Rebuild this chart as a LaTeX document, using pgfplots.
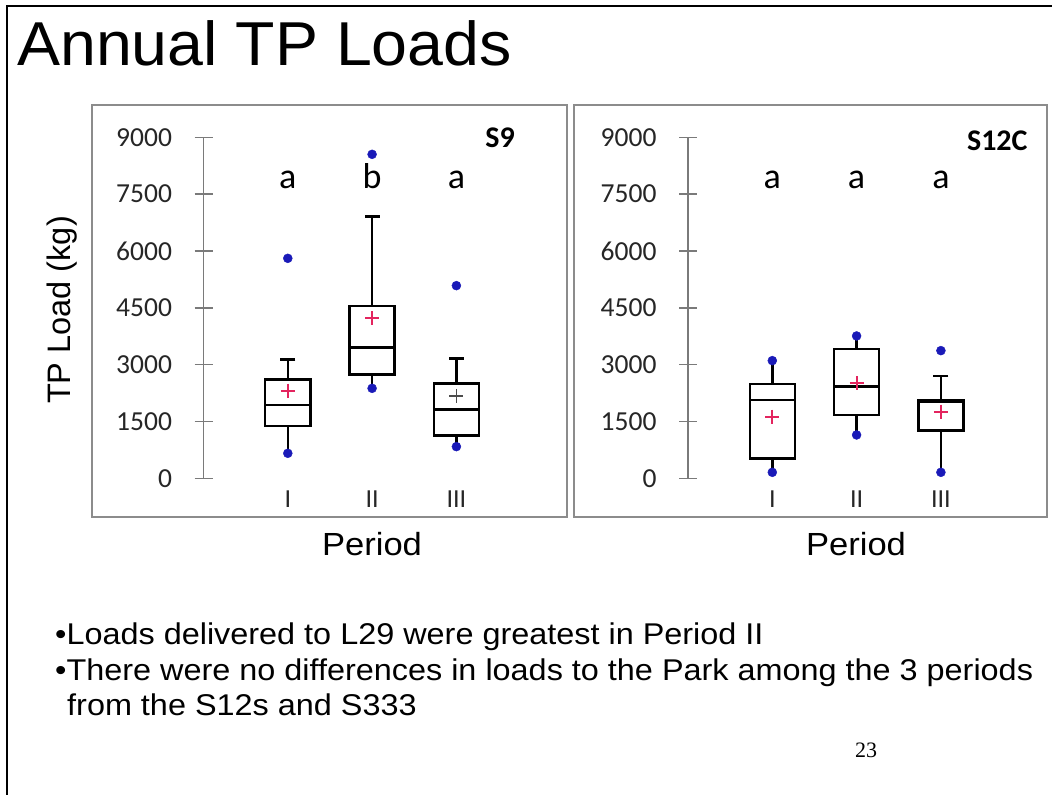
\documentclass[border=0pt]{standalone}
\usepackage{fontspec}
\setmainfont{Liberation Sans}
\newfontfamily\calib{Carlito}
\newfontfamily\tms{Liberation Serif}
\usepackage{pgfplots}
\pgfplotsset{compat=1.18}
\definecolor{dotblue}{HTML}{1A1AB8}
\definecolor{meanred}{HTML}{E3245E}
\definecolor{framegray}{HTML}{8C8C8C}
\definecolor{axgray}{HTML}{7A7A7A}

\pgfplotsset{
 panel/.style={
  scale only axis, width=337.2pt, height=341pt,
  xmin=0, xmax=4, ymin=0, ymax=9000,
  clip=false,
  axis y line*=left, axis x line*=bottom,
  x axis line style={draw=none},
  y axis line style={draw=axgray, line width=1.6pt},
  xtick={1,2,3}, xticklabels={I,II,III},
  major x tick style={draw=none},
  ytick={0,1500,3000,4500,6000,7500,9000},
  major y tick style={draw=axgray, line width=1.6pt},
  major tick length=18pt, tick align=center,
  yticklabel style={font=\calib\fontsize{27.5}{27.5}\selectfont, text=black!85, xshift=-19pt},
  xticklabel style={font=\calib\fontsize{26}{26}\selectfont, text=black!85},
  unbounded coords=jump,
  /pgf/number format/assume math mode=true,
  /pgf/number format/fixed,
  /pgf/number format/1000 sep={},
 },
 bx/.style={black, line width=2.4pt, solid, no marks, line cap=rect},
}

\begin{document}
\begin{tikzpicture}
\useasboundingbox (0pt,0pt) rectangle (1052pt,-795pt);
\fill[white] (0pt,0pt) rectangle (1052pt,-795pt);
\draw[line width=2pt] (7pt,-795pt) -- (7pt,-6pt) -- (1052pt,-6pt);
\node[anchor=base west, inner sep=0, xscale=1.04, font=\fontsize{62}{70}\selectfont] at (17pt,-65pt) {Annual TP Loads};

\draw[framegray, line width=2pt] (92pt,-105pt) rectangle (567pt,-517pt);
\draw[framegray, line width=2pt] (574pt,-105pt) rectangle (1047pt,-517pt);

% ---------- S9 ----------
\begin{axis}[panel, at={(203.5pt,-478.3pt)}, anchor=south west]
% Period I: box 1381-2613, median 1935, whiskers 660 / 3141
\addplot[bx] coordinates {(0.733,1381) (1.267,1381) (1.267,2613) (0.733,2613) (0.733,1381) (nan,nan)
  (0.733,1935) (1.267,1935) (nan,nan) (1,2613) (1,3141) (nan,nan) (1,1381) (1,660)};
% Period II: box 2745-4548, median 3449, whiskers 2375 / 6906
\addplot[bx] coordinates {(1.733,2745) (2.267,2745) (2.267,4548) (1.733,4548) (1.733,2745) (nan,nan)
  (1.733,3449) (2.267,3449) (nan,nan) (2,4548) (2,6906) (nan,nan) (2,2745) (2,2375)};
% Period III: box 1126-2507, median 1821, whiskers 836 / 3167
\addplot[bx] coordinates {(2.733,1126) (3.267,1126) (3.267,2507) (2.733,2507) (2.733,1126) (nan,nan)
  (2.733,1821) (3.267,1821) (nan,nan) (3,2507) (3,3167) (nan,nan) (3,1126) (3,836)};
\addplot[only marks, mark=-, mark size=7.5pt, black, line width=2.4pt] coordinates {(1,3141) (2,6906) (3,3167)};
\addplot[only marks, mark=*, mark size=4.5pt, dotblue] coordinates {(1,5806) (1,660) (2,8551) (2,2375) (3,5085) (3,836)};
\addplot[only marks, mark=+, mark size=7pt, meanred, line width=1.8pt] coordinates {(1,2314) (2,4223)};
\addplot[only marks, mark=+, mark size=7pt, black!70, line width=1.8pt] coordinates {(3,2173)};
\node[anchor=base, font=\calib\fontsize{36}{36}\selectfont] at (axis cs:1,7660) {a};
\node[anchor=base, font=\calib\fontsize{36}{36}\selectfont] at (axis cs:2,7660) {b};
\node[anchor=base, font=\calib\fontsize{36}{36}\selectfont] at (axis cs:3,7660) {a};
\node[anchor=base east, inner sep=0, font=\calib\bfseries\fontsize{30}{30}\selectfont] at (axis cs:3.695,8718) {S9};
\end{axis}

% ---------- S12C ----------
\begin{axis}[panel, at={(688pt,-478.3pt)}, anchor=south west]
\addplot[bx] coordinates {(0.733,528) (1.267,528) (1.267,2490) (0.733,2490) (0.733,528) (nan,nan)
  (0.733,2067) (1.267,2067) (nan,nan) (1,2490) (1,3106) (nan,nan) (1,528) (1,158)};
\addplot[bx] coordinates {(1.733,1672) (2.267,1672) (2.267,3405) (1.733,3405) (1.733,1672) (nan,nan)
  (1.733,2419) (2.267,2419) (nan,nan) (2,3405) (2,3757) (nan,nan) (2,1672) (2,1144)};
\addplot[bx] coordinates {(2.733,1258) (3.267,1258) (3.267,2050) (2.733,2050) (2.733,1258) (nan,nan)
  (2.733,2010) (3.267,2010) (nan,nan) (3,2050) (3,2701) (nan,nan) (3,1258) (3,158)};
\addplot[only marks, mark=-, mark size=7.5pt, black, line width=2.4pt] coordinates {(3,2701)};
\addplot[only marks, mark=*, mark size=4.5pt, dotblue] coordinates {(1,3106) (1,158) (2,3757) (2,1144) (3,3370) (3,158)};
\addplot[only marks, mark=+, mark size=7pt, meanred, line width=1.8pt] coordinates {(1,1628) (2,2507) (3,1760)};
\node[anchor=base, font=\calib\fontsize{36}{36}\selectfont] at (axis cs:1,7660) {a};
\node[anchor=base, font=\calib\fontsize{36}{36}\selectfont] at (axis cs:2,7660) {a};
\node[anchor=base, font=\calib\fontsize{36}{36}\selectfont] at (axis cs:3,7660) {a};
\node[anchor=base east, inner sep=0, font=\calib\bfseries\fontsize{30}{30}\selectfont] at (axis cs:4.03,8665) {S12C};
\end{axis}

\node[rotate=90, anchor=base, font=\fontsize{32.5}{32.5}\selectfont] at (70pt,-310pt) {TP Load (kg)};
\node[anchor=base, xscale=1.08, font=\fontsize{32}{32}\selectfont] at (372pt,-555pt) {Period};
\node[anchor=base, xscale=1.08, font=\fontsize{32}{32}\selectfont] at (856pt,-555pt) {Period};

\begin{scope}[every node/.style={anchor=base west, inner sep=0, xscale=1.08, font=\fontsize{30}{30}\selectfont}]
\node at (55pt,-644pt) {•Loads delivered to L29 were greatest in Period II};
\node at (55pt,-680pt) {•There were no differences in loads to the Park among the 3 periods};
\node at (67pt,-715pt) {from the S12s and S333};
\end{scope}
\node[anchor=base, font=\tms\fontsize{22}{22}\selectfont] at (866pt,-757pt) {23};
\end{tikzpicture}
\end{document}
